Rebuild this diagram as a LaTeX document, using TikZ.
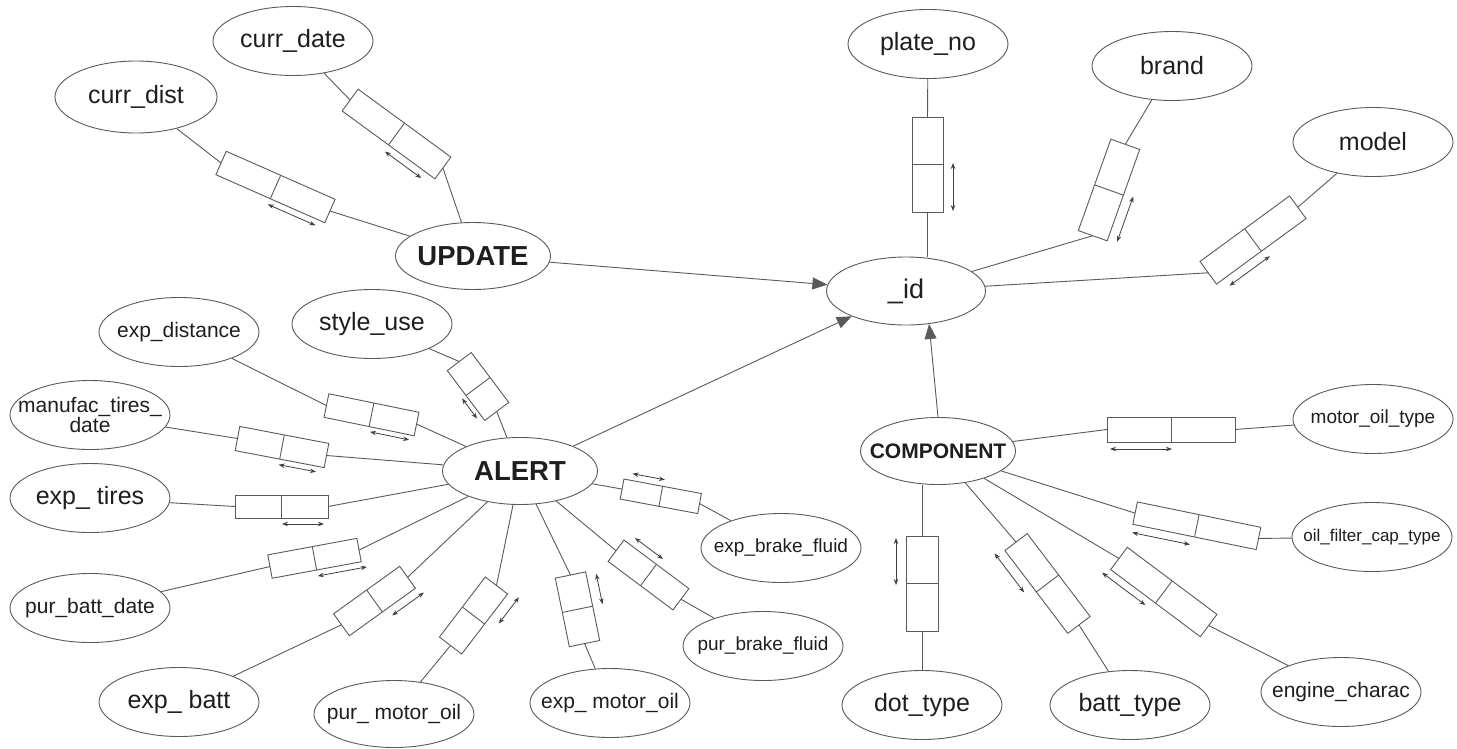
\documentclass[tikz,border=0pt]{standalone}
\usepackage{fontspec}
\setmainfont{Liberation Sans}
\usetikzlibrary{shapes.geometric,arrows.meta}
\definecolor{linec}{HTML}{5A5A5A}
\definecolor{txtc}{HTML}{1E1E1E}
\definecolor{arrc}{HTML}{404040}
% zero-width text so that the ellipse keeps its given size
\newcommand\zw[1]{\makebox[0pt][c]{#1}}
% #1 name, #2 #3 centre, #4 angle (attribute -> entity), #5 half length, #6 half width,
% #7 #8 arrow from/to along the box, #9 arrow offset across the box
\newcommand\rbox[9]{%
  \begin{scope}[shift={(#2,#3)},rotate=#4]
    \draw[boxl] (-#5,-#6) rectangle (#5,#6);
    \draw[boxl] (0,-#6) -- (0,#6);
    \coordinate (#1-a) at (-#5,0);
    \coordinate (#1-b) at (#5,0);
    \draw[darr] (#7,#9) -- (#8,#9);
  \end{scope}}
\begin{document}
\begin{tikzpicture}[x=1pt,y=-1pt,
  ell/.style={draw=linec, line width=0.9pt, ellipse, minimum width=160pt, minimum height=69pt,
              inner sep=0pt, text=txtc, align=center},
  big/.style={ell, font=\fontsize{25}{27}\selectfont},
  med/.style={ell, font=\fontsize{21}{20}\selectfont},
  sml/.style={ell, font=\fontsize{19}{21}\selectfont},
  tny/.style={ell, font=\fontsize{17}{19}\selectfont},
  ent/.style={ell, minimum width=155pt, minimum height=67pt, font=\bfseries\fontsize{27.5}{30}\selectfont},
  conn/.style={draw=linec, line width=0.9pt},
  boxl/.style={draw=linec, line width=0.9pt},
  darr/.style={draw=arrc, line width=0.8pt, {Stealth[length=6pt,width=4.5pt]}-{Stealth[length=6pt,width=4.5pt]}},
  isa/.style={draw=linec, line width=0.9pt, -{Triangle[length=15pt,width=12pt,fill=linec]}}
]
\fill[white] (0,0) rectangle (1457,748);
\useasboundingbox (0,0) rectangle (1457,748);

% entities
\node[ent] (UPDATE) at (473,256) {\zw{UPDATE}};
\node[ell, minimum width=159pt, minimum height=68pt, font=\fontsize{27}{29}\selectfont] (idn) at (906,291) {\zw{\_id}};
\node[ent] (ALERT) at (520,471) {\zw{ALERT}};
\node[ent, font=\bfseries\fontsize{21}{23}\selectfont] (COMPONENT) at (938,451) {\zw{COMPONENT}};

% attributes
\node[big, minimum width=162pt, minimum height=72pt] (curr_dist) at (136,97) {\zw{curr\_dist}};
\node[big] (curr_date) at (293,41) {\zw{curr\_date}};
\node[big] (plate_no) at (928,44) {\zw{plate\_no}};
\node[big] (brand) at (1172,66) {\zw{brand}};
\node[big] (model) at (1373,142) {\zw{model}};
\node[med] (exp_distance) at (179,332) {\zw{exp\_distance}};
\node[big] (style_use) at (372,324) {\zw{style\_use}};
\node[med] (manufac) at (90,415) {\zw{manufac\_tires\_}\\\zw{date}};
\node[big] (exp_tires) at (90,498) {\zw{exp\_ tires}};
\node[med] (pur_batt_date) at (90,608) {\zw{pur\_batt\_date}};
\node[big] (exp_batt) at (179,702) {\zw{exp\_ batt}};
\node[med, minimum height=67pt] (pur_motor_oil) at (394,714) {\zw{pur\_ motor\_oil}};
\node[med] (exp_motor_oil) at (610,703) {\zw{exp\_ motor\_oil}};
\node[sml] (pur_brake_fluid) at (763,646) {\zw{pur\_brake\_fluid}};
\node[sml] (exp_brake_fluid) at (781,548) {\zw{exp\_brake\_fluid}};
\node[sml] (motor_oil_type) at (1373,419) {\zw{motor\_oil\_type}};
\node[tny] (oil_filter) at (1372,537) {\zw{oil\_filter\_cap\_type}};
\node[med] (engine_charac) at (1341,692) {\zw{engine\_charac}};
\node[big] (dot_type) at (922,705) {\zw{dot\_type}};
\node[big] (batt_type) at (1130,705) {\zw{batt\_type}};

% relationship boxes
\rbox{B1}{275.5}{187}{-23.8}{59.5}{12.8}{0}{52}{19}
\rbox{B2}{396.5}{134}{-36.2}{57.5}{13.5}{1}{46}{21}
\rbox{B3}{927.5}{164.5}{-90}{47.5}{15.5}{-1.5}{46.5}{-25.5}
\rbox{B4}{1109}{190}{-109.6}{48.5}{15.3}{-2}{46}{-25}
\rbox{B5}{1253}{240}{-143.8}{55.5}{14}{-4}{46}{-23}
\rbox{B6}{478}{386.5}{-53.1}{31.2}{15}{0}{25}{20}
\rbox{B7}{371.5}{414.8}{-11.6}{46}{12}{2}{42}{17}
\rbox{B8}{282}{447}{-10.8}{45.3}{12.3}{0}{38}{18}
\rbox{B9}{281.5}{506.5}{0}{46.5}{11.5}{0.5}{42.5}{17.5}
\rbox{B10}{314.5}{558.3}{10.5}{45.3}{11.9}{0}{50}{18}
\rbox{B11}{374.5}{601}{35.7}{40.7}{13.5}{6}{45}{22}
\rbox{B12}{473.5}{615.5}{52.6}{37.8}{14}{9}{42}{25}
\rbox{B13}{577.5}{609.3}{101.6}{35}{15.5}{0}{31}{25.5}
\rbox{B14}{648.5}{575}{143.2}{40.5}{13.3}{-2}{33}{21.5}
\rbox{B15}{660.8}{496.3}{169.4}{39.4}{10.2}{-1}{32}{17}
\rbox{B16}{1171}{429.5}{180}{64}{12.5}{-1}{61}{-19.5}
\rbox{B17}{1196.8}{525.8}{168.4}{63}{11.4}{3}{62}{-19.7}
\rbox{B18}{922}{583.5}{90}{47.5}{16}{-1.5}{45.5}{-26}
\rbox{B19}{1047.5}{583.5}{127.2}{52}{14}{7}{56}{-24}
\rbox{B20}{1163.8}{592}{143.2}{56}{13.9}{7}{61}{-21.5}

% connectors attribute -- box -- entity
\draw[conn] (curr_dist) -- (B1-a);     \draw[conn] (B1-b) -- (UPDATE);
\draw[conn] (curr_date) -- (B2-a);     \draw[conn] (B2-b) -- (UPDATE);
\draw[conn] (plate_no) -- (B3-a);      \draw[conn] (B3-b) -- (B3-b |- idn.north);
\draw[conn] (brand) -- (B4-a);         \draw[conn] (B4-b) -- (idn);
\draw[conn] (model) -- (B5-a);         \draw[conn] (B5-b) -- (idn);
\draw[conn] (style_use) -- (B6-a);     \draw[conn] (B6-b) -- (ALERT);
\draw[conn] (exp_distance) -- (B7-a);  \draw[conn] (B7-b) -- (ALERT);
\draw[conn] (manufac) -- (B8-a);       \draw[conn] (B8-b) -- (ALERT);
\draw[conn] (exp_tires) -- (B9-a);     \draw[conn] (B9-b) -- (ALERT);
\draw[conn] (pur_batt_date) -- (B10-a);\draw[conn] (B10-b) -- (ALERT);
\draw[conn] (exp_batt) -- (B11-a);     \draw[conn] (B11-b) -- (ALERT);
\draw[conn] (pur_motor_oil) -- (B12-a);\draw[conn] (B12-b) -- (ALERT);
\draw[conn] (exp_motor_oil) -- (B13-a);\draw[conn] (B13-b) -- (ALERT);
\draw[conn] (pur_brake_fluid) -- (B14-a);\draw[conn] (B14-b) -- (ALERT);
\draw[conn] (exp_brake_fluid) -- (B15-a);\draw[conn] (B15-b) -- (ALERT);
\draw[conn] (motor_oil_type) -- (B16-a);\draw[conn] (B16-b) -- (COMPONENT);
\draw[conn] (oil_filter) -- (B17-a);   \draw[conn] (B17-b) -- (COMPONENT);
\draw[conn] (dot_type) -- (B18-a);     \draw[conn] (B18-b) -- (B18-b |- COMPONENT.south);
\draw[conn] (batt_type) -- (B19-a);    \draw[conn] (B19-b) -- (COMPONENT);
\draw[conn] (engine_charac) -- (B20-a);\draw[conn] (B20-b) -- (COMPONENT);

% entity -> _id
\draw[isa] (UPDATE) -- (idn);
\draw[isa] (ALERT) -- (idn);
\draw[isa] (COMPONENT.north) -- (idn.-55);
\end{tikzpicture}
\end{document}
